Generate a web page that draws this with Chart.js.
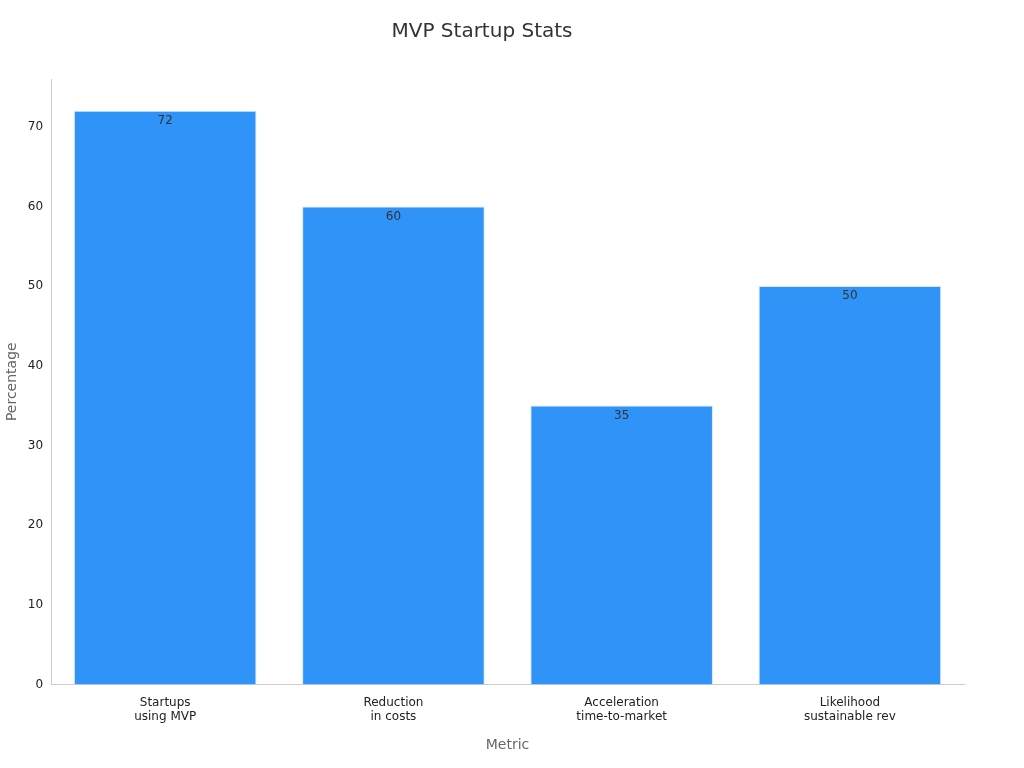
<!DOCTYPE html>
<html><head><meta charset="utf-8">
<script src="https://cdn.jsdelivr.net/npm/chart.js@4"></script>
<style>html,body{margin:0;padding:0;background:#fff}#w{width:1024px;height:768px}</style>
</head><body><div id="w"><canvas id="c"></canvas></div>
<script>
const categories = [["Startups","using MVP"],["Reduction","in costs"],["Acceleration","time-to-market"],["Likelihood","sustainable rev"]];
const values = [72, 60, 35, 50];
const yTicks = [0,10,20,30,40,50,60,70];

Chart.defaults.font.family = "'DejaVu Sans', sans-serif";
const labelPlugin = {
  id:'vals',
  afterDatasetsDraw(chart){
    const ctx = chart.ctx;
    const meta = chart.getDatasetMeta(0);
    ctx.save();
    ctx.font = "12px 'DejaVu Sans', sans-serif";
    ctx.fillStyle = '#333';
    ctx.textAlign = 'center';
    ctx.textBaseline = 'middle';
    meta.data.forEach((b,i)=>{ ctx.fillText(String(values[i]), b.x, b.y + 10); });
    ctx.restore();
  }
};
new Chart(document.getElementById('c'), {
  type:'bar',
  data:{labels:categories, datasets:[{data:values, backgroundColor:'#2f93f8', borderColor:'#d6e8fb', borderWidth:1, barPercentage:0.8, categoryPercentage:1.0}]},
  options:{
    responsive:true, maintainAspectRatio:false, animation:false,
    layout:{padding:{top:10,right:60,left:0,bottom:10}},
    plugins:{legend:{display:false}, tooltip:{enabled:false},
      title:{display:true, text:'MVP Startup Stats', color:'#333', font:{size:20, weight:'normal'}, padding:{top:10,bottom:35}}},
    scales:{
      x:{grid:{display:false, drawTicks:true, color:'#ccc'}, border:{color:'#ccc'},
         ticks:{color:'#222', font:{size:12}},
         title:{display:true, text:'Metric', color:'#666', font:{size:14}, padding:{top:10}}},
      y:{min:0, max:76, afterBuildTicks(ax){ax.ticks = yTicks.map(v=>({value:v}));},
         grid:{display:false, drawOnChartArea:false, drawTicks:true, tickLength:5, color:'#ccc'},
         border:{color:'#ccc'},
         ticks:{color:'#222', font:{size:12}},
         title:{display:true, text:'Percentage', color:'#666', font:{size:14}}}
    }
  },
  plugins:[labelPlugin]
});
</script></body></html>
